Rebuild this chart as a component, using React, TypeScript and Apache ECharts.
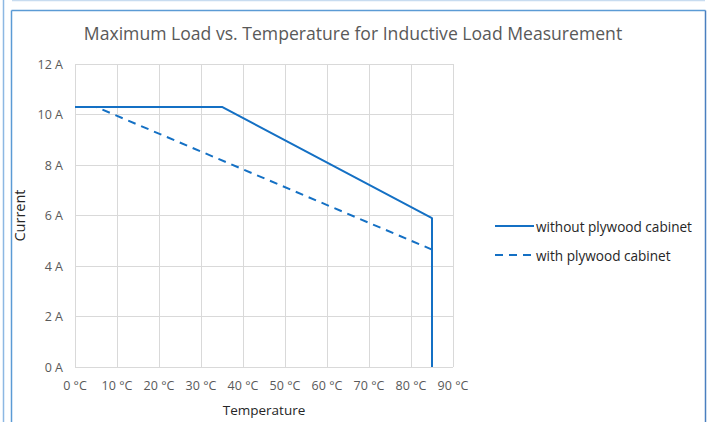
import React, { useEffect, useRef } from "react";
import * as echarts from "echarts";

const title = "Maximum Load vs. Temperature for Inductive Load Measurement";
const seriesNames = ["without plywood cabinet", "with plywood cabinet"];
const withoutCabinet: [number, number][] = [
  [0, 10.3],
  [35, 10.3],
  [85, 5.9],
  [85, 0],
];
const withCabinet: [number, number][] = [
  [0, 10.3],
  [5, 10.3],
  [85, 4.65],
];
const xTicks = { min: 0, max: 90, interval: 10, unit: "°C" };
const yTicks = { min: 0, max: 12, interval: 2, unit: "A" };

const FONT = "'Open Sans', 'Noto Sans', sans-serif";
const BLUE = "#1470C4";
const GRAY = "#595959";

export default function App() {
  const ref = useRef<HTMLDivElement>(null);
  useEffect(() => {
    if (!ref.current) return;
    const chart = echarts.init(ref.current, null, { renderer: "svg" });
    chart.setOption({
      animation: false,
      backgroundColor: "#ffffff",
      textStyle: { fontFamily: FONT },
      title: {
        text: title,
        left: 348,
        textAlign: "center",
        top: 19,
        textStyle: { fontSize: 17.6, fontWeight: "normal", color: GRAY, fontFamily: FONT },
      },
      grid: { left: 75, right: 255, top: 64, bottom: 55, containLabel: false },
      legend: {
        orient: "vertical",
        left: 489,
        top: 214,
        itemWidth: 39,
        itemHeight: 10,
        itemGap: 15,
        itemStyle: { opacity: 0 },
        textStyle: { fontSize: 13.6, color: "#262626", fontFamily: FONT, padding: [0, 0, 0, -3] },
        data: seriesNames,
      },
      xAxis: {
        type: "value",
        min: xTicks.min,
        max: xTicks.max,
        interval: xTicks.interval,
        name: "Temperature",
        nameLocation: "middle",
        nameGap: 36,
        nameTextStyle: { fontSize: 13.5, color: "#262626", fontFamily: FONT },
        axisLine: { show: false },
        axisTick: { show: false },
        axisLabel: {
          formatter: (v: number) => `${v} ${xTicks.unit}`,
          color: GRAY,
          fontSize: 12.5,
          margin: 12,
          fontFamily: FONT,
        },
        splitLine: { show: true, lineStyle: { color: "#d9d9d9", width: 1 } },
      },
      yAxis: {
        type: "value",
        min: yTicks.min,
        max: yTicks.max,
        interval: yTicks.interval,
        name: "Current",
        nameLocation: "middle",
        nameGap: 48,
        nameRotate: 90,
        nameTextStyle: { fontSize: 14.5, color: "#262626", fontFamily: FONT },
        axisLine: { show: false },
        axisTick: { show: false },
        axisLabel: {
          formatter: (v: number) => `${v} ${yTicks.unit}`,
          color: GRAY,
          fontSize: 12.5,
          margin: 12,
          fontFamily: FONT,
        },
        splitLine: { show: true, lineStyle: { color: "#d9d9d9", width: 1 } },
      },
      series: [
        {
          name: seriesNames[0],
          type: "line",
          data: withoutCabinet,
          symbol: "none",
          lineStyle: { color: BLUE, width: 2, type: "solid" },
          itemStyle: { color: BLUE },
          z: 3,
        },
        {
          name: seriesNames[1],
          type: "line",
          data: withCabinet,
          symbol: "none",
          lineStyle: { color: BLUE, width: 2, type: [8, 6] },
          itemStyle: { color: BLUE },
          z: 2,
        },
      ],
      graphic: [
        { type: "line", shape: { x1: 3.5, y1: 0, x2: 3.5, y2: 422 }, style: { stroke: "#8db8e3", lineWidth: 1.5 } },
        { type: "line", shape: { x1: 12, y1: 0.5, x2: 705, y2: 0.5 }, style: { stroke: "#c8dcf0", lineWidth: 1.5 } },
        { type: "line", shape: { x1: 11.5, y1: 10.5, x2: 11.5, y2: 422 }, style: { stroke: "#5b9bd5", lineWidth: 1.5 } },
        { type: "line", shape: { x1: 11.5, y1: 10.5, x2: 705.5, y2: 10.5 }, style: { stroke: "#5b9bd5", lineWidth: 1.5 } },
        { type: "line", shape: { x1: 705.5, y1: 10.5, x2: 705.5, y2: 422 }, style: { stroke: "#4a7fbf", lineWidth: 1.5 } },
      ],
    });
    return () => chart.dispose();
  }, []);
  return (
    <div
      ref={ref}
      style={{ position: "absolute", left: 0, top: 0, width: 708, height: 422 }}
    />
  );
}
